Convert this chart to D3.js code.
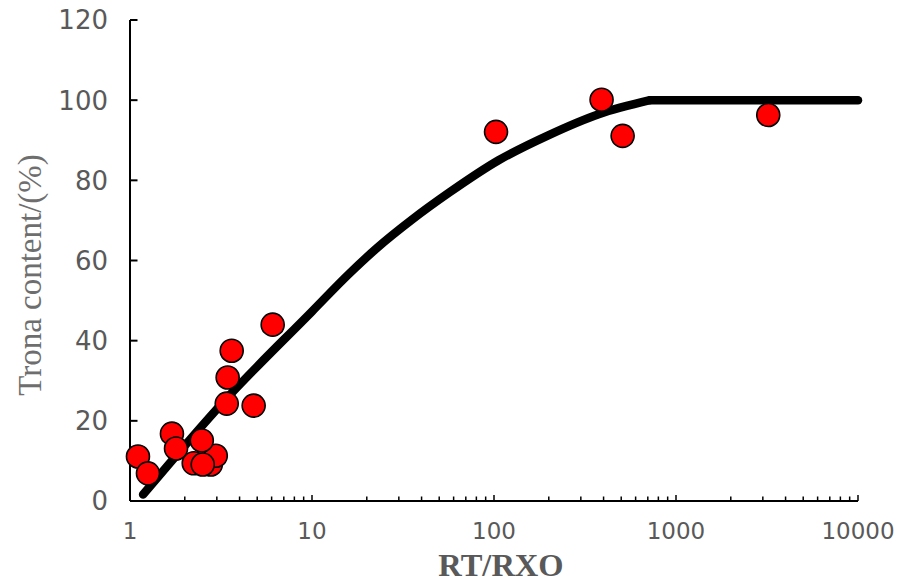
<!DOCTYPE html>
<html>
<head>
<meta charset="utf-8">
<script src="https://cdn.jsdelivr.net/npm/d3@7"></script>
<style>
  html, body { margin: 0; padding: 0; background: #fff; }
  svg { display: block; }
</style>
</head>
<body>
<svg id="chart" width="904" height="583"></svg>
<script>
// ---- data ----
const pointsX = [1.106, 1.255, 1.70, 1.79, 2.24, 2.78, 2.96, 2.48, 2.51, 3.40, 3.44, 3.62, 4.78, 6.08, 102.6, 390, 509, 3213];
const pointsY = [11.1, 6.9, 16.8, 13.1, 9.4, 9.1, 11.3, 15.1, 9.1, 24.3, 30.8, 37.5, 23.8, 44.0, 92.1, 100.1, 91.1, 96.3];
// fitted curve (rising part) and the plateau
const curveX = [1.18, 3.3, 10, 16, 23, 35, 57, 106, 200, 376, 720];
const curveY = [1.6, 25.0, 47.3, 56.7, 63.3, 70.0, 77.0, 85.0, 91.3, 96.5, 100];
const plateauX = [720, 10000];
const plateauY = [100, 100];
const xTickValues = [1, 10, 100, 1000, 10000];
const yTickValues = [0, 20, 40, 60, 80, 100, 120];
const xTitle = "RT/RXO";
const yTitle = "Trona content/(%)";

// ---- layout ----
const svg = d3.select("#chart");
const x0 = 130, x1 = 858, yTop = 20, yBot = 501;
const x = d3.scaleLog().domain([1, 10000]).range([x0, x1]);
const y = d3.scaleLinear().domain([0, 120]).range([yBot, yTop]);

const gray = "#595959";

// x axis (ticks inward)
const minorTicks = [];
for (let d = 1; d < 10000; d *= 10) for (let k = 2; k <= 9; k++) minorTicks.push(d * k);
const xAxisG = svg.append("g").attr("transform", `translate(0,${yBot})`);
xAxisG.append("line").attr("x1", x0).attr("x2", x1).attr("stroke", "#000").attr("stroke-width", 2);
xAxisG.selectAll("line.minor").data(minorTicks).join("line")
  .attr("class", "minor")
  .attr("x1", d => x(d)).attr("x2", d => x(d))
  .attr("y1", 0).attr("y2", -4.5).attr("stroke", "#000").attr("stroke-width", 1.5);
xAxisG.selectAll("line.major").data(xTickValues).join("line")
  .attr("class", "major")
  .attr("x1", d => x(d)).attr("x2", d => x(d))
  .attr("y1", 0).attr("y2", -6).attr("stroke", "#000").attr("stroke-width", 1.5);
xAxisG.selectAll("text").data(xTickValues).join("text")
  .attr("x", d => x(d)).attr("y", 38)
  .attr("text-anchor", "middle")
  .attr("font-family", "DejaVu Sans")
  .attr("font-size", 23)
  .attr("fill", gray)
  .text(d => d);

// y axis (ticks inward)
const yAxisG = svg.append("g").attr("transform", `translate(${x0},0)`);
yAxisG.append("line").attr("y1", yTop).attr("y2", yBot).attr("stroke", "#000").attr("stroke-width", 2);
yAxisG.selectAll("line.tick").data(yTickValues).join("line")
  .attr("class", "tick")
  .attr("y1", d => y(d)).attr("y2", d => y(d))
  .attr("x1", 0).attr("x2", 7.5).attr("stroke", "#000").attr("stroke-width", 2);
yAxisG.selectAll("text").data(yTickValues).join("text")
  .attr("x", -22).attr("y", d => y(d))
  .attr("dy", "0.36em")
  .attr("text-anchor", "end")
  .attr("font-family", "DejaVu Sans")
  .attr("font-size", 26)
  .attr("fill", gray)
  .text(d => d);

// titles
svg.append("text")
  .attr("x", 501).attr("y", 576)
  .attr("text-anchor", "middle")
  .attr("font-family", "Liberation Serif")
  .attr("font-weight", "bold")
  .attr("font-size", 32.5)
  .attr("fill", gray)
  .text(xTitle);
svg.append("text")
  .attr("transform", "translate(41,275) rotate(-90)")
  .attr("text-anchor", "middle")
  .attr("font-family", "Liberation Serif")
  .attr("font-size", 33)
  .attr("fill", "#6e6e6e")
  .text(yTitle);

// fitted curve
const line = d3.line()
  .x(d => x(d[0])).y(d => y(d[1]))
  .curve(d3.curveMonotoneX);
const lineStyle = sel => sel
  .attr("fill", "none")
  .attr("stroke", "#000")
  .attr("stroke-width", 8.5)
  .attr("stroke-linecap", "round")
  .attr("stroke-linejoin", "round");
svg.append("path")
  .datum(curveX.map((v, i) => [v, curveY[i]]))
  .attr("d", line)
  .call(lineStyle);
svg.append("path")
  .datum(plateauX.map((v, i) => [v, plateauY[i]]))
  .attr("d", d3.line().x(d => x(d[0])).y(d => y(d[1])))
  .call(lineStyle);

// points
svg.append("g").selectAll("circle")
  .data(pointsX.map((v, i) => [v, pointsY[i]]))
  .join("circle")
  .attr("cx", d => x(d[0])).attr("cy", d => y(d[1]))
  .attr("r", 11.5)
  .attr("fill", "#ff0000")
  .attr("stroke", "#000")
  .attr("stroke-width", 1.6);
</script>
</body>
</html>
